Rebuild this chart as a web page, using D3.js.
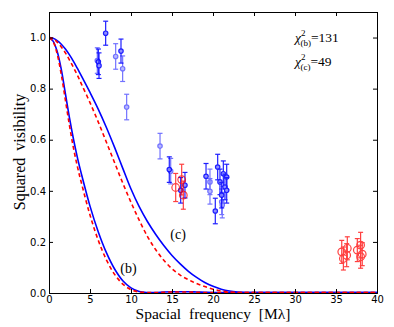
<!DOCTYPE html>
<html>
<head>
<meta charset="utf-8">
<script src="https://cdn.jsdelivr.net/npm/d3@7"></script>
<style>
  body { margin: 0; background: #fff; }
  .tick text { font-family: "DejaVu Sans", sans-serif; font-size: 10px; fill: #000; }
  .axis path, .axis line { stroke: #000; }
</style>
</head>
<body>
<div id="chart"></div>
<script>
var curveX = [0, 0.5, 1, 1.5, 2, 2.5, 3, 3.5, 4, 5, 6, 7, 8, 9, 10, 11, 12, 13, 14, 15, 16, 17, 18, 19, 20,
  21, 22, 23, 24, 25, 26, 27, 28, 29, 30, 31, 32, 33, 34, 35, 36, 37, 38, 39, 40];
var bSolid = [1.0, 0.986, 0.945, 0.875, 0.78, 0.685, 0.60, 0.525, 0.46,
  0.34, 0.24, 0.158, 0.094, 0.048, 0.02, 0.006, 0.002, 0.002, 0.004, 0.005, 0.005, 0.005, 0.004, 0.003,
  0.002, 0.002, 0.002, 0.002, 0.002, 0.002, 0.002, 0.002, 0.002, 0.002, 0.002, 0.002, 0.002, 0.002, 0.002, 0.002, 0.002, 0.002, 0.002, 0.002, 0.002];
var bDashed = [1.0, 0.984, 0.935, 0.855, 0.755, 0.655, 0.565, 0.49, 0.425,
  0.305, 0.207, 0.13, 0.073, 0.035, 0.013, 0.004, 0.002, 0.002, 0.003, 0.004, 0.004, 0.004, 0.003, 0.002,
  0.002, 0.002, 0.002, 0.002, 0.002, 0.002, 0.002, 0.002, 0.002, 0.002, 0.002, 0.002, 0.002, 0.002, 0.002, 0.002, 0.002, 0.002, 0.002, 0.002, 0.002];
var cSolid = [1.0, 0.997, 0.988, 0.974, 0.955, 0.932, 0.906, 0.877, 0.847,
  0.785, 0.72, 0.648, 0.57, 0.488, 0.407, 0.338, 0.28, 0.23, 0.186, 0.147, 0.114, 0.085, 0.061, 0.041, 0.026,
  0.015, 0.008, 0.004, 0.002, 0.002, 0.002, 0.002, 0.002, 0.002, 0.002, 0.002, 0.002, 0.002, 0.002, 0.002, 0.002, 0.002, 0.002, 0.002, 0.002];
var cDashed = [1.0, 0.996, 0.982, 0.963, 0.94, 0.912, 0.882, 0.85, 0.815,
  0.745, 0.67, 0.59, 0.51, 0.43, 0.355, 0.285, 0.222, 0.17, 0.128, 0.095, 0.07, 0.052, 0.037, 0.025, 0.015,
  0.008, 0.004, 0.002, 0.002, 0.002, 0.002, 0.002, 0.002, 0.002, 0.002, 0.002, 0.002, 0.002, 0.002, 0.002, 0.002, 0.002, 0.002, 0.002, 0.002];

// measured points: frequency, V^2, error
var blueStrongX = [6.91, 6.02, 6.10, 8.78, 14.67, 16.06, 16.58, 19.15, 20.28, 20.57, 20.85, 21.06, 21.26, 21.46, 21.67, 21.67];
var blueStrongY = [1.017, 0.905, 0.89, 0.947, 0.483, 0.402, 0.422, 0.457, 0.321, 0.493, 0.435, 0.383, 0.467, 0.415, 0.454, 0.402];
var blueStrongE = [0.047, 0.05, 0.05, 0.047, 0.05, 0.05, 0.05, 0.05, 0.05, 0.05, 0.05, 0.05, 0.05, 0.05, 0.05, 0.05];
var blueFaintX = [5.89, 8.13, 8.98, 9.47, 13.54, 14.84, 19.63, 19.63, 21.06, 21.13];
var blueFaintY = [0.91, 0.926, 0.878, 0.728, 0.575, 0.477, 0.435, 0.398, 0.357, 0.344];
var blueFaintE = [0.05, 0.05, 0.05, 0.05, 0.05, 0.05, 0.05, 0.05, 0.05, 0.05];
var redX = [15.45, 16.18, 16.38, 35.7, 36.38, 36.3, 35.9, 37.6, 38.0, 38.2, 38.0];
var redY = [0.413, 0.444, 0.383, 0.161, 0.175, 0.148, 0.135, 0.168, 0.1875, 0.152, 0.142];
var redE = [0.055, 0.06, 0.055, 0.045, 0.045, 0.045, 0.045, 0.045, 0.05, 0.045, 0.045];

var xTicks = [0, 5, 10, 15, 20, 25, 30, 35, 40];
var yTicks = [0.0, 0.2, 0.4, 0.6, 0.8, 1.0];

var width = 394, height = 327;
var margin = { top: 12, right: 17, bottom: 34, left: 49 };
var w = width - margin.left - margin.right,
    h = height - margin.top - margin.bottom;

var svg = d3.select("#chart").append("svg")
    .attr("width", width)
    .attr("height", height);

var g = svg.append("g")
    .attr("transform", "translate(" + margin.left + "," + margin.top + ")");

var x = d3.scaleLinear().domain([0, 40]).range([0, w]);
var y = d3.scaleLinear().domain([0, 1.1]).range([h, 0]);

g.append("clipPath").attr("id", "clip")
    .append("rect").attr("width", w).attr("height", h + 1);

function zip(xs, ys) {
    return xs.map(function (d, i) { return [d, ys[i]]; });
}

var line = d3.line()
    .x(function (d) { return x(d[0]); })
    .y(function (d) { return y(d[1]); })
    .curve(d3.curveCatmullRom.alpha(0.5));

var curves = [
    { vals: bSolid, color: "#0000ff", dash: null },
    { vals: cSolid, color: "#0000ff", dash: null },
    { vals: bDashed, color: "#ff0000", dash: "4,3" },
    { vals: cDashed, color: "#ff0000", dash: "4,3" }
];

var plot = g.append("g").attr("clip-path", "url(#clip)");

plot.selectAll(".model")
    .data(curves)
    .enter().append("path")
    .attr("class", "model")
    .attr("fill", "none")
    .attr("stroke", function (d) { return d.color; })
    .attr("stroke-width", 1.6)
    .attr("stroke-dasharray", function (d) { return d.dash; })
    .attr("d", function (d) { return line(zip(curveX, d.vals)); });

// error bars + markers
function errSeries(xs, ys, es, color, opacity, marker) {
    var pts = xs.map(function (d, i) { return { x: d, y: ys[i], e: es[i] }; });
    var grp = plot.append("g").attr("opacity", opacity);
    var eb = grp.selectAll("g").data(pts).enter().append("g")
        .attr("stroke", color).attr("stroke-width", 1.2);
    eb.append("line")
        .attr("x1", function (d) { return x(d.x); })
        .attr("x2", function (d) { return x(d.x); })
        .attr("y1", function (d) { return y(d.y - d.e); })
        .attr("y2", function (d) { return y(d.y + d.e); });
    [-1, 1].forEach(function (s) {
        eb.append("line")
            .attr("x1", function (d) { return x(d.x) - 2.5; })
            .attr("x2", function (d) { return x(d.x) + 2.5; })
            .attr("y1", function (d) { return y(d.y + s * d.e); })
            .attr("y2", function (d) { return y(d.y + s * d.e); });
    });
    if (marker == "dot") {
        eb.append("circle")
            .attr("cx", function (d) { return x(d.x); })
            .attr("cy", function (d) { return y(d.y); })
            .attr("r", 2.2)
            .attr("fill", "#7f7fff");
    } else {
        eb.append("circle")
            .attr("cx", function (d) { return x(d.x); })
            .attr("cy", function (d) { return y(d.y); })
            .attr("r", 3.8)
            .attr("fill", "none");
    }
}

errSeries(blueFaintX, blueFaintY, blueFaintE, "#0000ff", 0.55, "dot");
errSeries(blueStrongX, blueStrongY, blueStrongE, "#0000ff", 0.88, "dot");
errSeries(redX, redY, redE, "#ff0000", 0.75, "circle");

// axes with inward ticks on all four sides
g.append("g").attr("class", "axis")
    .attr("transform", "translate(0," + h + ")")
    .call(d3.axisBottom(x).tickValues(xTicks).tickSize(-4).tickPadding(3).tickFormat(d3.format("d")));
g.append("g").attr("class", "axis")
    .call(d3.axisTop(x).tickValues(xTicks).tickSize(-4).tickFormat(""));
g.append("g").attr("class", "axis")
    .call(d3.axisLeft(y).tickValues(yTicks).tickSize(-4).tickPadding(3).tickFormat(d3.format(".1f")));
g.append("g").attr("class", "axis")
    .attr("transform", "translate(" + w + ",0)")
    .call(d3.axisRight(y).tickValues(yTicks).tickSize(-4).tickFormat(""));

// labels
var serif = "'Liberation Serif', 'DejaVu Serif', serif";

svg.append("text")
    .attr("x", margin.left + w / 2)
    .attr("y", 319)
    .attr("text-anchor", "middle")
    .style("font-family", serif)
    .style("font-size", "15.5px")
    .attr("word-spacing", "4px")
    .text("Spacial frequency [M\u03bb]");

svg.append("text")
    .attr("transform", "translate(25," + 152 + ") rotate(-90)")
    .attr("text-anchor", "middle")
    .style("font-family", serif)
    .style("font-size", "16px")
    .attr("word-spacing", "3px")
    .text("Squared visibility");

var chiLabels = [{ sub: "(b)", val: "=131", yy: 42 }, { sub: "(c)", val: "=49", yy: 66 }];
chiLabels.forEach(function (c) {
    var t = svg.append("text")
        .attr("x", 295)
        .attr("y", c.yy)
        .style("font-family", serif)
        .style("font-size", "13.5px");
    t.append("tspan").style("font-style", "italic").text("\u03c7");
    t.append("tspan").attr("dy", -6).style("font-size", "9px").text("2");
    t.append("tspan").attr("dx", -5).attr("dy", 10).style("font-size", "9px").text(c.sub);
    t.append("tspan").attr("dy", -4).text(c.val);
});

g.append("text")
    .attr("x", x(8.7)).attr("y", y(0.08))
    .style("font-family", serif).style("font-size", "14px")
    .text("(b)");
g.append("text")
    .attr("x", x(14.8)).attr("y", y(0.21))
    .style("font-family", serif).style("font-size", "14px")
    .text("(c)");
</script>
</body>
</html>
